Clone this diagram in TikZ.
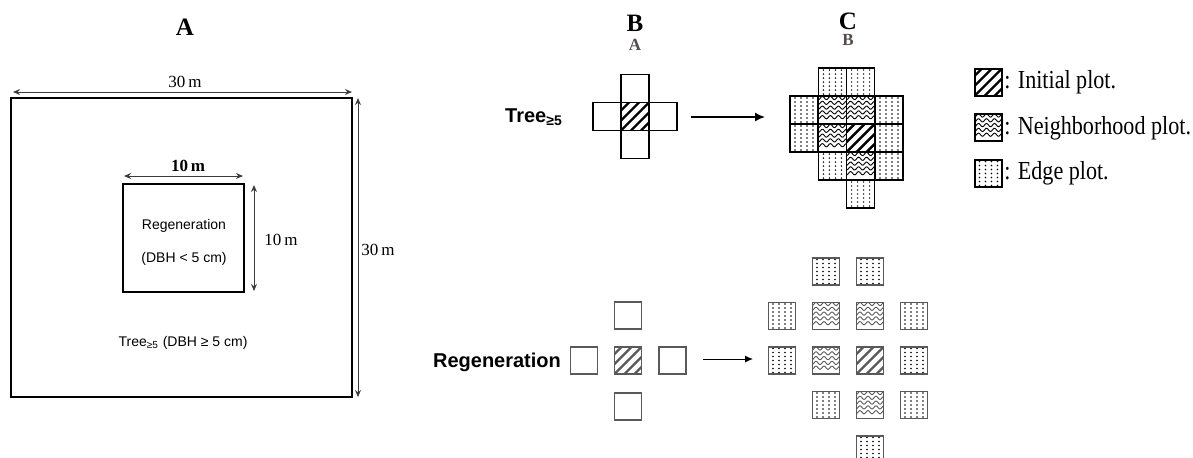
\documentclass[tikz,border=0pt]{standalone}
\usepackage{fontspec}
\setmainfont{Liberation Serif}
\setsansfont{Liberation Sans}
\newfontfamily\legendfont[FakeStretch=0.85]{Liberation Serif}
\usetikzlibrary{arrows.meta}
\definecolor{inkgray}{RGB}{60,60,60}
\definecolor{fadedink}{RGB}{85,75,75}

\tikzset{
  paneltitle/.style={font=\rmfamily\bfseries\fontsize{12.5}{14}\selectfont, inner sep=0pt},
  panelsub/.style={font=\rmfamily\bfseries\fontsize{8.5}{10}\selectfont, color=fadedink, inner sep=0pt},
  dimlabel/.style={font=\rmfamily\fontsize{8.5}{10}\selectfont, inner sep=0pt},
  innertext/.style={font=\sffamily\fontsize{7}{8.4}\selectfont, inner sep=0pt},
  rowlabel/.style={font=\sffamily\bfseries\fontsize{10}{12}\selectfont, inner sep=0pt},
  legendtext/.style={font=\legendfont\fontsize{13}{15}\selectfont, anchor=west, inner sep=0pt},
  dimarrow/.style={{Stealth[length=3.5pt,width=3pt]}-{Stealth[length=3.5pt,width=3pt]}, draw=inkgray, line width=0.5pt},
  plotcell/.style={draw, line width=0.8pt, minimum size=14pt, inner sep=0pt},
  smallcell/.style={draw=black!65, line width=0.7pt, minimum size=13.5pt, inner sep=0pt},
  emptyplot/.style={},
  initplot/.style={path picture={
    \foreach \k in {-30,-20,...,30}
      \draw[line width=1.2pt] ([shift={(\k-16,16)}]path picture bounding box.center)
        -- ([shift={(\k+16,-16)}]path picture bounding box.center);
  }},
  neighplot/.style={path picture={
    \foreach \r in {-12,-7.2,...,12}
      \draw[line width=0.45pt, shift={(path picture bounding box.center)}]
        plot[domain=-16:16, samples=40, smooth] (\x, {\r+1.6*sin(\x*45)});
  }},
  edgeplot/.style={path picture={
    \foreach \i in {-9,-3,...,9}
      \foreach \j in {-12,-8,...,12}
        \fill ([shift={(\i,\j)}]path picture bounding box.center) circle[radius=0.42pt];
  }}
}

\begin{document}
\begin{tikzpicture}[x=0.5pt, y=-0.5pt, font=\sffamily]
  \useasboundingbox (0,0) rectangle (1193,457);

  % PANEL A: plot layout
  \node[paneltitle] (titleA) at (185,27) {A};
  \draw[line width=0.9pt] (11,98) rectangle (352,397);
  \draw[line width=0.9pt] (123,184) rectangle (244,292);
  \coordinate (wideL) at (13,92);  \coordinate (wideR) at (352,92);
  \coordinate (tallT) at (358,98); \coordinate (tallB) at (358,397);
  \coordinate (subL) at (124,176); \coordinate (subR) at (243,176);
  \coordinate (subT) at (254,185); \coordinate (subB) at (254,291);
  \draw[dimarrow] (wideL) -- (wideR);
  \draw[dimarrow] (tallT) -- (tallB);
  \draw[dimarrow] (subL) -- (subR);
  \draw[dimarrow] (subT) -- (subB);
  \node[dimlabel] (wideLbl) at (185,82) {30\,m};
  \node[dimlabel] (tallLbl) at (378,250) {30\,m};
  \node[dimlabel, font=\rmfamily\bfseries\fontsize{8.5}{10}\selectfont] (subWLbl) at (188,166) {10\,m};
  \node[dimlabel] (subHLbl) at (281,240) {10\,m};
  \node[innertext] (regenTxt) at (184,226) {Regeneration};
  \node[innertext] (regenDbh) at (184,259) {(DBH < 5 cm)};
  \node[innertext] (treeTxt) at (183,343) {Tree\textsubscript{≥5} (DBH ≥ 5 cm)};

  % PANEL B / C titles (faded old letters under them)
  \node[panelsub] (subB) at (635,45) {A};
  \node[paneltitle] (titleB) at (635,23) {B};
  \node[panelsub] (subC) at (848,40) {B};
  \node[paneltitle] (titleC) at (848,21) {C};

  % TOP ROW: Tree>=5
  \node[rowlabel] (treeLbl) at (534,117) {Tree\textsubscript{≥5}};
  \foreach \cx/\cy/\kind [count=\n] in {%
    635/88.5/emptyplot, 607/116.5/emptyplot, 635/116.5/initplot,
    663/116.5/emptyplot, 635/144.5/emptyplot}
    \node[plotcell, \kind] (bt\n) at (\cx,\cy) {};
  \coordinate (arrTs) at (691,117); \coordinate (arrTe) at (765,117);
  \draw[-{Latex[length=5pt,width=4.5pt]}, line width=0.75pt] (arrTs) -- (arrTe);
  \foreach \cx/\cy/\kind [count=\n] in {%
    832.4/82/edgeplot, 860.6/82/edgeplot,
    804/110/edgeplot, 832.4/110/neighplot, 860.6/110/neighplot, 889/110/edgeplot,
    804/138/edgeplot, 832.4/138/neighplot, 860.6/138/initplot, 889/138/edgeplot,
    832.4/166/edgeplot, 860.6/166/neighplot, 889/166/edgeplot,
    860.6/194/edgeplot}
    \node[plotcell, \kind] (ct\n) at (\cx,\cy) {};

  % LEGEND
  \node[plotcell, initplot, line width=1pt, minimum size=13.5pt] (legI) at (988.5,82) {};
  \node[plotcell, neighplot, line width=1pt, minimum size=13.5pt] (legN) at (988.5,127.5) {};
  \node[plotcell, edgeplot, line width=1pt, minimum size=13.5pt] (legE) at (988.5,173.5) {};
  \node[legendtext] (legItxt) at (1004,82) {: Initial plot.};
  \node[legendtext] (legNtxt) at (1004,128) {: Neighborhood plot.};
  \node[legendtext] (legEtxt) at (1004,173) {: Edge plot.};

  % BOTTOM ROW: Regeneration
  \node[rowlabel] (regenLbl) at (497,362) {Regeneration};
  \foreach \cx/\cy/\kind [count=\n] in {%
    628/315.5/emptyplot, 584/360.5/emptyplot, 628/360.5/initplot,
    672.5/360.5/emptyplot, 628/406.5/emptyplot}
    \node[smallcell, \kind] (bb\n) at (\cx,\cy) {};
  \coordinate (arrBs) at (703,359); \coordinate (arrBe) at (753,359);
  \draw[-{Latex[length=4pt,width=3.5pt]}, line width=0.5pt] (arrBs) -- (arrBe);
  \foreach \cx/\cy/\kind [count=\n] in {%
    826/271.5/edgeplot, 870/271.5/edgeplot,
    782/316/edgeplot, 826/316/neighplot, 870/316/neighplot, 914/316/edgeplot,
    782/360.5/edgeplot, 826/360.5/neighplot, 870/360.5/initplot, 914/360.5/edgeplot,
    826/405/edgeplot, 870/405/neighplot, 914/405/edgeplot,
    870/449.5/edgeplot}
    \node[smallcell, \kind] (cb\n) at (\cx,\cy) {};
\end{tikzpicture}
\end{document}
